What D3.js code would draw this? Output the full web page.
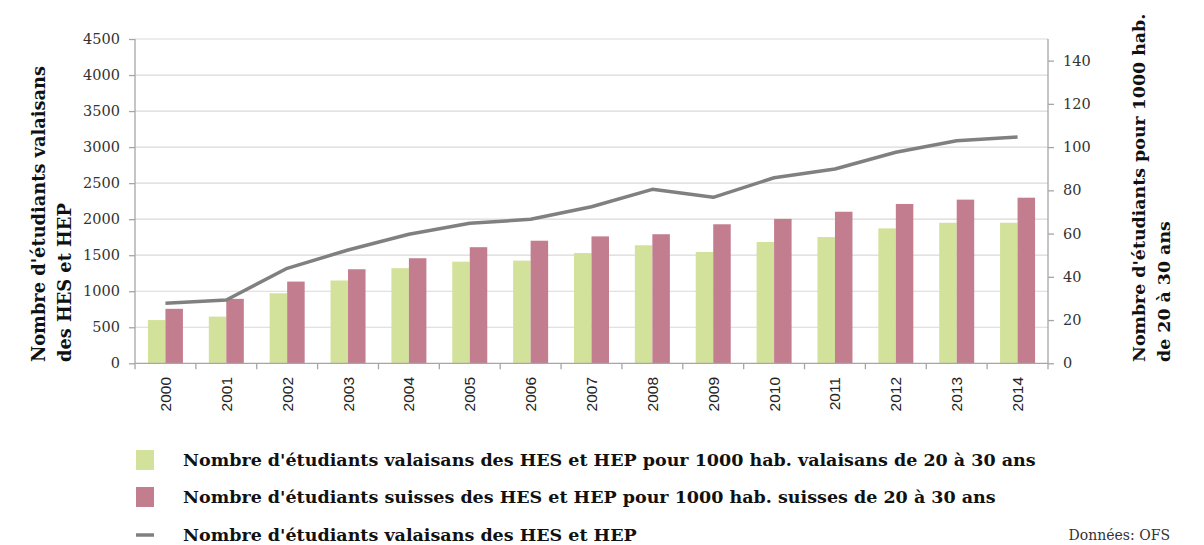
<!DOCTYPE html>
<html><head><meta charset="utf-8">
<script src="https://cdn.jsdelivr.net/npm/d3@7/dist/d3.min.js"></script>
<style>
body{margin:0;background:#fff;}
svg{display:block;}
</style></head>
<body>
<svg id="c" width="1204" height="545"></svg>
<script>
const years = ["2000","2001","2002","2003","2004","2005","2006","2007","2008","2009","2010","2011","2012","2013","2014"];
const valaisansPer1000 = [20.0,21.6,32.4,38.3,44.0,47.0,47.5,51.0,54.6,51.5,56.1,58.4,62.4,65.0,65.0];
const suissesPer1000 = [25.2,29.8,37.8,43.5,48.6,53.7,56.7,58.7,59.7,64.3,66.8,70.1,73.7,75.7,76.6];
const valaisansTotal = [833,878,1318,1572,1790,1943,1998,2173,2414,2303,2575,2696,2928,3089,3140];
const leftTicks = [0,500,1000,1500,2000,2500,3000,3500,4000,4500];
const rightTicks = [0,20,40,60,80,100,120,140];
const legendLabels = [
  "Nombre d'étudiants valaisans des HES et HEP pour 1000 hab. valaisans de 20 à 30 ans",
  "Nombre d'étudiants suisses des HES et HEP pour 1000 hab. suisses de 20 à 30 ans",
  "Nombre d'étudiants valaisans des HES et HEP"
];
const leftTitle = ["Nombre d'étudiants valaisans","des HES et HEP"];
const rightTitle = ["Nombre d'étudiants pour 1000 hab.","de 20 à 30 ans"];

const GREEN = "#d3e29b", PINK = "#c27d8f", LINE = "#808080";
const SERIF = "'DejaVu Serif', serif";
const svg = d3.select("#c");
const L = 135, R = 1048, T = 39, B = 363.3;

const x = d3.scaleBand().domain(years).range([L, R]).paddingInner(0.425).paddingOuter(0.2125);
const xs = d3.scaleBand().domain(["v","s"]).range([0, x.bandwidth()]);
const yL = d3.scaleLinear().domain([0,4500]).range([B, T]);
const yR = d3.scaleLinear().domain([0,150]).range([B, T]);

// gridlines
svg.append("g").selectAll("line").data(leftTicks.slice(1)).join("line")
  .attr("x1", L).attr("x2", R).attr("y1", d=>yL(d)).attr("y2", d=>yL(d))
  .attr("stroke", "#d9d9d9").attr("stroke-width", 1.2);

// bars
const g = svg.append("g");
g.selectAll(".bv").data(years).join("rect")
  .attr("x", d=>x(d)+xs("v")).attr("width", xs.bandwidth())
  .attr("y", (d,i)=>yR(valaisansPer1000[i])).attr("height", (d,i)=>B - yR(valaisansPer1000[i]))
  .attr("fill", GREEN);
g.selectAll(".bs").data(years).join("rect")
  .attr("x", d=>x(d)+xs("s")).attr("width", xs.bandwidth())
  .attr("y", (d,i)=>yR(suissesPer1000[i])).attr("height", (d,i)=>B - yR(suissesPer1000[i]))
  .attr("fill", PINK);

// line
const line = d3.line().x((d,i)=>x(years[i]) + x.bandwidth()/2).y(d=>yL(d));
svg.append("path").datum(valaisansTotal).attr("d", line)
  .attr("fill","none").attr("stroke", LINE).attr("stroke-width", 3.5).attr("stroke-linejoin","round");

// left axis
const axL = svg.append("g").attr("transform", `translate(${L},0)`)
  .call(d3.axisLeft(yL).tickValues(leftTicks).tickSize(6).tickPadding(9).tickFormat(d3.format("d")));
// right axis
const axR = svg.append("g").attr("transform", `translate(${R},0)`)
  .call(d3.axisRight(yR).tickValues(rightTicks).tickSize(6).tickPadding(9).tickFormat(d3.format("d")));
[axL, axR].forEach(a=>{
  a.select(".domain").attr("stroke","#a6a6a6").attr("stroke-width",1.3).attr("d", `M0,${T}V${B}`);
  a.selectAll(".tick line").attr("stroke","#a6a6a6").attr("stroke-width",1.3);
  a.selectAll("text").attr("font-family", SERIF).attr("font-size", 14.5).attr("fill","#333");
});

// bottom axis
const step = x.step();
const bounds = d3.range(years.length + 1).map(i => L + i*step);
svg.append("line").attr("x1", L).attr("x2", R).attr("y1", B).attr("y2", B)
  .attr("stroke","#a6a6a6").attr("stroke-width",1.3);
svg.append("g").selectAll("line").data(bounds).join("line")
  .attr("x1", d=>d).attr("x2", d=>d).attr("y1", B).attr("y2", B+6)
  .attr("stroke","#a6a6a6").attr("stroke-width",1.3);
svg.append("g").selectAll("text").data(years).join("text")
  .attr("transform", d=>`translate(${x(d)+x.bandwidth()/2+5.5},377) rotate(-90)`)
  .attr("text-anchor","end")
  .attr("font-family","'Liberation Sans', Arial, sans-serif").attr("font-size",15.5).attr("fill","#222")
  .text(d=>d);

// axis titles
function title(lines, xs0, fs){
  lines.forEach((t,i)=>{
    svg.append("text").attr("transform", `translate(${xs0[i]},362) rotate(-90)`)
      .attr("text-anchor","start").attr("font-family", SERIF).attr("font-weight","bold")
      .attr("font-size", fs).attr("fill","#111").text(t);
  });
}
title(leftTitle, [45, 71], 17.8);
title(rightTitle, [1145, 1170], 17.4);

// legend
const legY = [460, 497, 535];
legendLabels.forEach((t,i)=>{
  if (i < 2) {
    svg.append("rect").attr("x",136).attr("y",legY[i]-10).attr("width",18).attr("height",20)
      .attr("fill", i===0 ? GREEN : PINK);
  } else {
    svg.append("line").attr("x1",136).attr("x2",154).attr("y1",legY[i]).attr("y2",legY[i])
      .attr("stroke", LINE).attr("stroke-width",3.5);
  }
  svg.append("text").attr("x",183).attr("y",legY[i]).attr("dy","0.35em")
    .attr("font-family", SERIF).attr("font-weight","bold").attr("font-size",17.5).attr("fill","#111")
    .text(t);
});
svg.append("text").attr("x",1170).attr("y",535).attr("dy","0.35em").attr("text-anchor","end")
  .attr("font-family", SERIF).attr("font-size",14).attr("fill","#333").text("Données: OFS");
</script>
</body></html>
